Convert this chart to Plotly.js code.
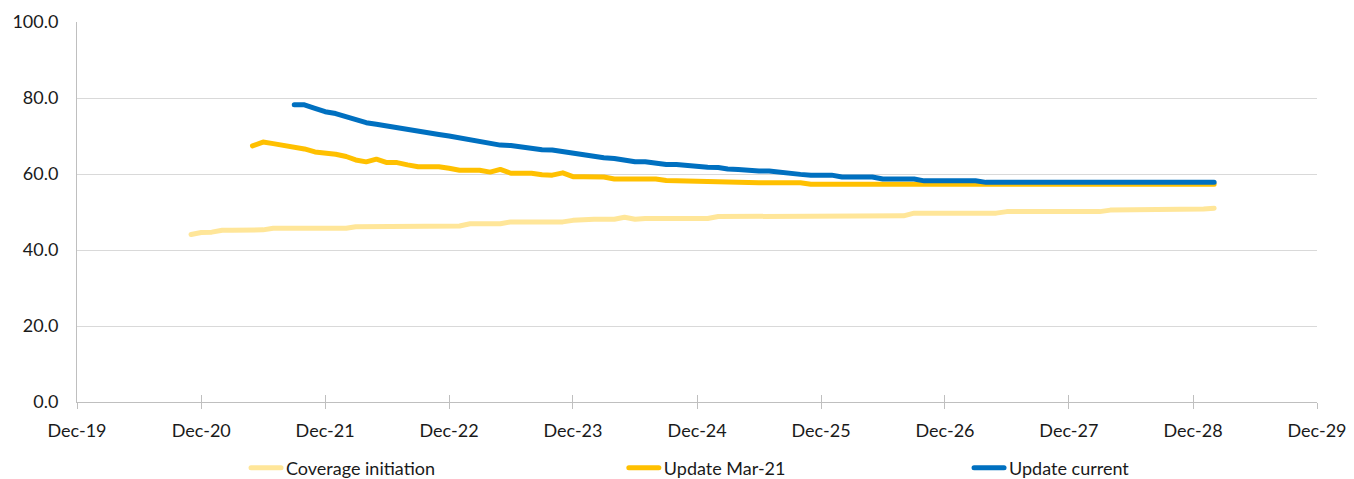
<!DOCTYPE html>
<html>
<head>
<meta charset="utf-8">
<script src="https://cdn.plot.ly/plotly-3.0.1.min.js"></script>
<style>
  html, body { margin: 0; padding: 0; background: #ffffff; }
  #chart { width: 1354px; height: 479px; }
  .js-line { stroke-linecap: round; stroke-linejoin: round; }
</style>
</head>
<body>
<div id="chart"></div>
<script>
// ---- Data (monthly values) ----
const seriesNames = ["Coverage initiation", "Update Mar-21", "Update current"];

// first month of each series (year, month 1-12)
const coverageStart = [2020, 11];
const updateMar21Start = [2021, 5];
const updateCurrentStart = [2021, 9];

const coverageValues = [
  44.1, 44.6, 44.7,
  45.2, 45.2, 45.2, 45.2, 45.3,
  45.7, 45.7, 45.7, 45.7, 45.7, 45.7, 45.7, 45.7,
  46.1, 46.1, 46.1, 46.1, 46.1,
  46.3, 46.3, 46.3, 46.3, 46.3, 46.3,
  46.9, 46.9, 46.9, 46.9,
  47.4, 47.4, 47.4, 47.4, 47.4, 47.4,
  47.8,
  48.1, 48.1, 48.1, 48.1,
  48.6,
  48.1,
  48.3, 48.3, 48.3, 48.3, 48.3, 48.3, 48.3,
  48.8, 48.8, 48.8, 48.8, 48.8, 48.8, 48.8, 48.8, 48.8,
  49.0, 49.0, 49.0, 49.0, 49.0, 49.0, 49.0, 49.0, 49.0, 49.0,
  49.7, 49.7, 49.7, 49.7, 49.7, 49.7, 49.7, 49.7, 49.7,
  50.1, 50.1, 50.1, 50.1, 50.1, 50.1, 50.1, 50.1, 50.1, 50.1,
  50.5, 50.5, 50.5, 50.5, 50.5, 50.5, 50.5, 50.5, 50.5,
  50.8, 51.0
];

const updateMar21Values = [
  67.4, 68.4, 68.0, 67.6, 67.1, 66.6, 65.8, 65.6, 65.2, 64.6,
  63.7, 63.2, 63.9, 63.0, 63.0, 62.4, 61.9, 61.9, 61.9, 61.5,
  61.0, 61.0, 61.0, 60.5, 61.2, 60.2, 60.2, 60.2, 59.8, 59.7,
  60.3, 59.3, 59.3, 59.3, 59.2, 58.7, 58.7, 58.7, 58.7, 58.7,
  58.3, 58.2, 58.2, 58.2, 58.2, 57.8,
  57.7, 57.7, 57.7, 57.7, 57.7, 57.7, 57.7, 57.7,
  57.3, 57.3, 57.3, 57.3, 57.3, 57.3, 57.3, 57.3, 57.3, 57.3,
  57.3, 57.3, 57.3, 57.3, 57.3, 57.3, 57.3, 57.3, 57.3, 57.3,
  57.3, 57.3, 57.3, 57.3, 57.3, 57.3, 57.3, 57.3, 57.3, 57.3,
  57.3, 57.3, 57.3, 57.3, 57.3, 57.3, 57.3, 57.3, 57.3, 57.3
];

const updateCurrentValues = [
  78.2, 78.2, 77.3, 76.4, 75.9, 75.0, 74.5, 73.5, 73.1, 72.6,
  72.2, 71.8, 71.3, 70.9, 70.4, 70.0, 69.5, 69.1, 68.6, 68.0,
  67.6, 67.5, 67.1, 66.8, 66.4, 66.3, 65.9, 65.3, 64.8, 64.7,
  64.3, 64.1, 63.6, 63.2, 63.2, 62.8, 62.5, 62.5, 62.2, 62.1,
  61.8, 61.7, 61.3, 61.2, 60.9, 60.8, 60.8, 60.4, 60.2, 59.9,
  59.7, 59.7, 59.7, 59.2, 59.2, 59.2, 59.2, 58.7, 58.7, 58.7,
  58.7, 58.2, 58.2, 58.2, 58.2, 58.2, 58.2,
  57.8, 57.8, 57.8, 57.8, 57.8, 57.8, 57.8, 57.8, 57.8, 57.8,
  57.8, 57.8, 57.8, 57.8, 57.8, 57.8, 57.8, 57.8, 57.8, 57.8,
  57.8, 57.8, 57.8
];

// x-axis ticks
const tickDates = ["2019-12-01","2020-12-01","2021-12-01","2022-12-01","2023-12-01",
                   "2024-12-01","2025-12-01","2026-12-01","2027-12-01","2028-12-01","2029-12-01"];
const tickLabels = ["Dec-19","Dec-20","Dec-21","Dec-22","Dec-23",
                    "Dec-24","Dec-25","Dec-26","Dec-27","Dec-28","Dec-29"];
const yTicks = [0, 20, 40, 60, 80, 100];

const colors = ["#FFE699", "#FFC000", "#0070C0"];

// ---- helpers ----
function monthDates(start, n) {
  const out = [];
  for (let i = 0; i < n; i++) {
    const d = new Date(Date.UTC(start[0], start[1] - 1 + i, 1));
    const mm = String(d.getUTCMonth() + 1).padStart(2, "0");
    out.push(d.getUTCFullYear() + "-" + mm + "-01");
  }
  return out;
}

const FONT = "Lato, 'Open Sans', sans-serif";
const TXT = "#1a1a1a";

const valueSets = [coverageValues, updateMar21Values, updateCurrentValues];
const starts = [coverageStart, updateMar21Start, updateCurrentStart];
const legendIds = ["legend", "legend2", "legend3"];

const traces = valueSets.map((vals, i) => ({
  type: "scatter",
  mode: "lines",
  name: seriesNames[i],
  x: monthDates(starts[i], vals.length),
  y: vals,
  line: { color: colors[i], width: 5 },
  legend: legendIds[i],
  hoverinfo: "x+y+name"
}));

function legendAt(xPaper) {
  return {
    orientation: "h",
    x: xPaper, xanchor: "left",
    yref: "container",
    y: 0.023, yanchor: "middle",
    font: { family: FONT, size: 18, color: TXT },
    bgcolor: "rgba(0,0,0,0)",
    borderwidth: 0,
    itemwidth: 30
  };
}

const layout = {
  width: 1354,
  height: 479,
  margin: { l: 77, r: 37, t: 22, b: 77, autoexpand: false },
  paper_bgcolor: "#ffffff",
  plot_bgcolor: "#ffffff",
  font: { family: FONT, size: 18, color: TXT },
  showlegend: true,
  legend: legendAt(0.1363),
  legend2: legendAt(0.441),
  legend3: legendAt(0.7194),
  xaxis: {
    type: "date",
    range: ["2019-12-01", "2029-12-01"],
    tickmode: "array",
    tickvals: tickDates,
    ticktext: tickLabels,
    ticks: "outside",
    ticklen: 6,
    tickcolor: "#bfbfbf",
    tickwidth: 1,
    ticklabelstandoff: 6,
    showgrid: false,
    showline: true,
    linecolor: "#bfbfbf",
    linewidth: 1,
    zeroline: false,
    automargin: false,
    tickfont: { family: FONT, size: 18, color: TXT }
  },
  xaxis2: {
    type: "date",
    overlaying: "x",
    anchor: "y",
    side: "bottom",
    range: ["2019-12-01", "2029-12-01"],
    tickmode: "array",
    tickvals: tickDates,
    ticks: "inside",
    ticklen: 7,
    tickcolor: "#bfbfbf",
    showticklabels: false,
    showgrid: false,
    showline: false,
    zeroline: false
  },
  yaxis: {
    range: [0, 100],
    tickmode: "array",
    tickvals: yTicks,
    tickformat: ".1f",
    ticks: "",
    ticklabelstandoff: 14,
    showgrid: true,
    gridcolor: "#d9d9d9",
    gridwidth: 1,
    showline: true,
    linecolor: "#bfbfbf",
    linewidth: 1,
    zeroline: false,
    automargin: false,
    tickfont: { family: FONT, size: 18, color: TXT }
  }
};

// invisible trace to activate the overlay axis that draws the inner half of the ticks
traces.push({
  type: "scatter", mode: "lines", x: [], y: [],
  xaxis: "x2", yaxis: "y", showlegend: false, hoverinfo: "skip"
});

Plotly.newPlot("chart", traces, layout, { displayModeBar: false, staticPlot: true });
</script>
</body>
</html>
